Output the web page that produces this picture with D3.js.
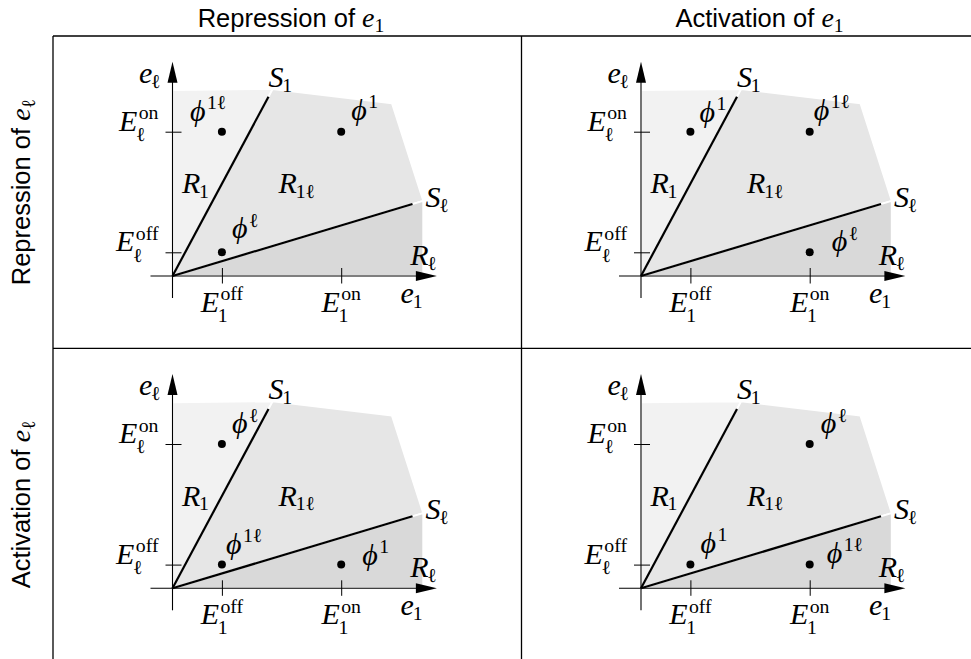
<!DOCTYPE html>
<html>
<head>
<meta charset="utf-8">
<script src="https://cdn.jsdelivr.net/npm/d3@7"></script>
<style>
  body { margin: 0; background: #fff; }
  svg { display: block; }
  text { white-space: pre; }
  .math { font-family: "Liberation Serif", "DejaVu Serif", serif; }
  .sans { font-family: "Liberation Sans", Arial, sans-serif; }
</style>
</head>
<body>
<svg id="chart"></svg>
<script>
// ---- data (abstract units along e1 and e_ell) ----
const colHeaders = ['Repression of ', 'Activation of '];
const rowHeaders = ['Repression of ', 'Activation of '];
const e1Levels = { off: 4.94, on: 16.87 };
const elLevels = { off: 2.37, on: 14.43 };
const e1Ticks = ['off', 'on'];
const elTicks = ['off', 'on'];
const s1End = [9.6, 17.93];
const slEnd = [24.0, 7.2];
const regionR1 = [[0, 0], [0, 18.6], [10.02, 18.7]];
const regionR1l = [[0, 0], [10.02, 18.7], [21.94, 17.27], [25.07, 7.52]];
const regionRl = [[0, 0], [25.07, 7.52], [25.07, 0]];
const regionNames = ['1', '1ℓ', 'ℓ'];
// steady states per panel (row-major): [e1 level, e_ell level, superscript]
const steadyStates = [
  [['off', 'on', '1ℓ'], ['on', 'on', '1'], ['off', 'off', 'ℓ']],
  [['off', 'on', '1'], ['on', 'on', '1ℓ'], ['on', 'off', 'ℓ']],
  [['off', 'on', 'ℓ'], ['off', 'off', '1ℓ'], ['on', 'off', '1']],
  [['on', 'on', 'ℓ'], ['off', 'off', '1'], ['on', 'off', '1ℓ']],
];

// ---- layout ----
const W = 971, H = 659;
const gridLeft = 53, gridTop = 36, cellW = 468.5, cellH = 312.3;
const originInCell = [119.5, 240];
const fs = 30;
// label offsets (px) from each steady state point, same order as steadyStates
const stateLabelOffsets = [
  [[-32, -11], [10, -12], [10, -14]],
  [[9, -10], [4, -12], [22, -1]],
  [[10, -11], [4, -11], [21, 0]],
  [[11, -11], [10, -12], [17, -2]],
];
const regionLabelOffsets = [[9.4, -82.7], [106, -82.7], [237.7, -11]];
const regionColors = ['#f2f2f2', '#e6e6e6', '#d9d9d9'];

const svg = d3.select('#chart').attr('width', W).attr('height', H);

const x = d3.scaleLinear().domain([0, 10]).range([0, 100]);
const y = d3.scaleLinear().domain([0, 10]).range([0, -100]);

// math label as one <text>: italic base, then optional sup / sub stacked
function tex(parent, px, py, base, sub, sup, anchor = 'start', size = fs) {
  const t = parent.append('text').attr('class', 'math').attr('font-size', size);
  const b = t.append('tspan').attr('font-style', 'italic').text(base);
  const w = b.node().getComputedTextLength();
  const small = size * 0.66;
  let end = w, cur = 0;
  if (sup) {
    const sx = w + size * 0.05, dy = -size * 0.38;
    const s = t.append('tspan').attr('x', sx).attr('dy', dy - cur)
      .attr('font-size', small).text(sup);
    cur = dy;
    end = Math.max(end, sx + s.node().getComputedTextLength());
  }
  if (sub) {
    const sx = w - size * 0.04, dy = size * (sup ? 0.34 : 0.16);
    const s = t.append('tspan').attr('x', sx).attr('dy', dy - cur)
      .attr('font-size', small).text(sub);
    end = Math.max(end, sx + s.node().getComputedTextLength());
  }
  const shift = anchor === 'end' ? -end : anchor === 'middle' ? -end / 2 : 0;
  t.attr('transform', `translate(${px + shift},${py})`);
  return t;
}

// sans prefix followed by the math variable e_sub, as one <text>
function header(parent, prefix, sub) {
  const t = parent.append('text').attr('class', 'sans').attr('font-size', 25.5);
  t.append('tspan').text(prefix);
  t.append('tspan').attr('class', 'math').attr('font-style', 'italic')
    .attr('font-size', 28).text('e');
  t.append('tspan').attr('class', 'math').attr('font-size', 19.6)
    .attr('dy', 4.5).text(sub);
  const total = t.node().getComputedTextLength();
  return { t, total };
}

// ---- table grid ----
const grid = svg.append('g').attr('stroke', '#000').attr('stroke-width', 1.3);
[gridLeft, gridLeft + cellW].forEach(gx =>
  grid.append('line').attr('x1', gx).attr('x2', gx).attr('y1', gridTop).attr('y2', H));
[gridTop, gridTop + cellH].forEach(gy =>
  grid.append('line').attr('x1', gridLeft).attr('x2', W).attr('y1', gy).attr('y2', gy));

colHeaders.forEach((txt, i) => {
  const h = header(svg, txt, '1');
  h.t.attr('transform', `translate(${291 + i * cellW - h.total / 2},27)`);
});
rowHeaders.forEach((txt, i) => {
  const wrap = svg.append('g').attr('transform', `translate(30,${gridTop + cellH / 2 + i * cellH}) rotate(-90)`);
  const h = header(wrap, txt, 'ℓ');
  h.t.attr('transform', `translate(${-h.total / 2},0)`);
});

// ---- panels ----
const line = d3.line().x(d => x(d[0])).y(d => y(d[1]));

steadyStates.forEach((states, p) => {
  const col = p % 2, row = Math.floor(p / 2);
  const ox = gridLeft + col * cellW + originInCell[0];
  const oy = gridTop + row * cellH + originInCell[1];
  const g = svg.append('g').attr('transform', `translate(${ox},${oy})`);

  // regions
  [regionR1, regionR1l, regionRl].forEach((poly, i) => {
    g.append('path')
      .attr('d', line(poly) + 'Z')
      .attr('fill', regionColors[i])
      .attr('stroke', '#fff')
      .attr('stroke-width', 1.8)
      .attr('stroke-linejoin', 'round');
  });

  // axes with ticks
  const xAxis = d3.axisBottom(x).tickValues(e1Ticks.map(k => e1Levels[k]))
    .tickSize(7.5).tickFormat('');
  const yAxis = d3.axisLeft(y).tickValues(elTicks.map(k => elLevels[k]))
    .tickSize(7).tickFormat('');
  const gx = g.append('g').call(xAxis);
  const gy = g.append('g').call(yAxis);
  [gx, gy].forEach(a => {
    a.select('.domain').remove();
    a.selectAll('text').remove();
    a.selectAll('line').attr('stroke', '#000').attr('stroke-width', 1);
  });
  gx.selectAll('.tick line').attr('y1', -8);
  gy.selectAll('.tick line').attr('x1', 9).attr('x2', -7);

  const axes = g.append('g').attr('stroke', '#000').attr('stroke-width', 1.1);
  const xTip = x(26.44), yTip = y(21.43);
  axes.append('line').attr('x1', x(-2.2)).attr('x2', xTip - 10).attr('y1', 0).attr('y2', 0);
  axes.append('line').attr('y1', y(-2.2)).attr('y2', yTip + 10).attr('x1', 0).attr('x2', 0);
  g.append('path').attr('d', `M${xTip},0L${xTip - 21},-5L${xTip - 21},5Z`).attr('fill', '#000');
  g.append('path').attr('d', `M0,${yTip}L-5,${yTip + 21}L5,${yTip + 21}Z`).attr('fill', '#000');

  // separatrices
  [s1End, slEnd].forEach(e => {
    g.append('path').attr('d', line([[0, 0], e]))
      .attr('stroke', '#000').attr('stroke-width', 2.2).attr('fill', 'none');
  });

  // axis labels
  tex(g, -12, -193, 'e', 'ℓ', null, 'end');
  tex(g, 228, 27, 'e', '1', null, 'start');
  e1Ticks.forEach(k => tex(g, x(e1Levels[k]), 35.7, 'E', '1', k, 'middle'));
  elTicks.forEach(k => tex(g, -14, y(elLevels[k]) - 1, 'E', 'ℓ', k, 'end'));

  // separatrix and region labels
  tex(g, x(s1End[0]), y(s1End[1]) - 10, 'S', '1', null);
  tex(g, x(slEnd[0]) + 13, y(slEnd[1]) + 3, 'S', 'ℓ', null);
  regionNames.forEach((nm, i) => tex(g, regionLabelOffsets[i][0], regionLabelOffsets[i][1], 'R', nm, null));

  // steady states
  states.forEach((s, i) => {
    const px = x(e1Levels[s[0]]), py = y(elLevels[s[1]]);
    g.append('circle').attr('cx', px).attr('cy', py).attr('r', 4).attr('fill', '#000');
    const off = stateLabelOffsets[p][i];
    tex(g, px + off[0], py + off[1], 'ϕ', null, s[2]);
  });
});
</script>
</body>
</html>
